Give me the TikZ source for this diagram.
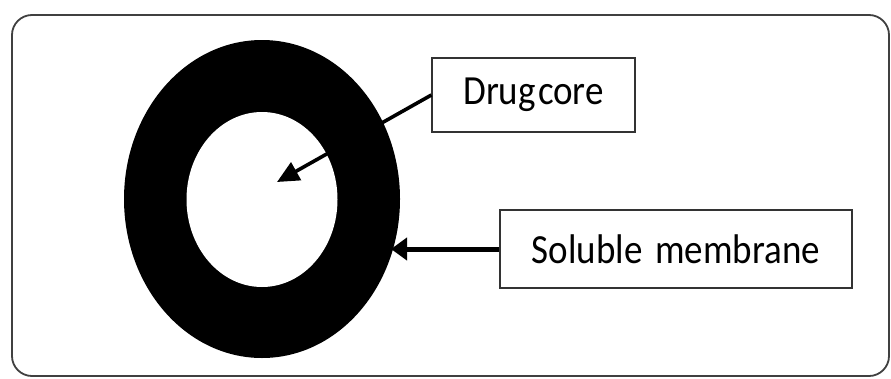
\documentclass[tikz,border=0pt]{standalone}
\usepackage{fontspec}
\setmainfont{Carlito}
\usetikzlibrary{shapes.geometric,arrows.meta}
\tikzset{
  labelbox/.style={draw=black!80, line width=1.2pt, fill=white, inner sep=0pt, font=\fontsize{37}{40}\selectfont, text=black},
  pointer/.style={draw=black, fill=black},
}
\newcommand{\tallword}[1]{\scalebox{1}[1.12]{#1}}
\begin{document}
\begin{tikzpicture}[x=1pt,y=-1pt]
\useasboundingbox (0,0) rectangle (891,378);
\fill[white] (0,0) rectangle (891,378);
% outer frame
\draw[draw=black!75, line width=1.8pt, rounded corners=20pt] (12,15) rectangle (889,376);
% capsule
\node[ellipse, fill=black, inner sep=0pt, minimum width=276pt, minimum height=318pt] (shell) at (262,199) {};
\node[ellipse, fill=white, inner sep=0pt, minimum width=151pt, minimum height=175pt] (core) at (262,199.5) {};
% labels
\node[labelbox, minimum width=203pt, minimum height=74pt] (drug) at (533.5,95) {\tallword{Drug\hspace{0.06em}core}};
\node[labelbox, minimum width=352pt, minimum height=78pt] (memb) at (676,249) {\tallword{Soluble\hspace{0.12em} membrane}};
% pointers
\coordinate (coretip) at (277,182);
\coordinate (membtip) at (391,249);
\draw[pointer, line width=3.6pt, -{Triangle[length=22pt,width=20pt]}] (drug.west) -- (coretip);
\draw[pointer, line width=5pt, -{Triangle[length=16pt,width=22pt]}] (memb.west) -- (membtip);
\end{tikzpicture}
\end{document}
